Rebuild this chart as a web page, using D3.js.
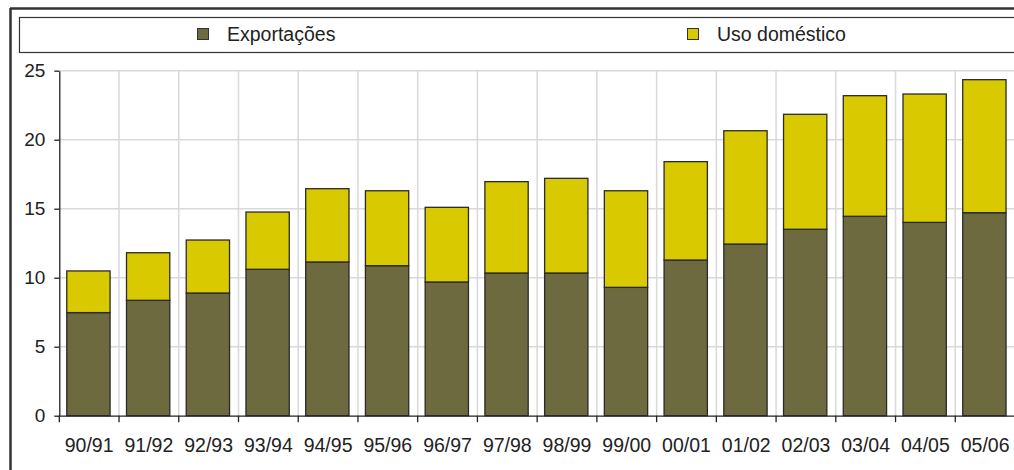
<!DOCTYPE html>
<html><head><meta charset="utf-8">
<script src="https://cdn.jsdelivr.net/npm/d3@7"></script>
<style>body{margin:0;background:#fff;}svg{display:block;font-family:"Liberation Sans",Arial,sans-serif;}</style>
</head><body>
<svg id="c" width="1014" height="470"></svg>
<script>
const categories = ["90/91","91/92","92/93","93/94","94/95","95/96","96/97","97/98","98/99","99/00","00/01","01/02","02/03","03/04","04/05","05/06"];
const exportacoes = [7.47,8.36,8.89,10.61,11.14,10.87,9.69,10.34,10.34,9.3,11.28,12.44,13.51,14.45,14.01,14.71];
const usoDomestico = [3.02,3.45,3.84,4.15,5.31,5.43,5.41,6.62,6.86,7.0,7.13,8.21,8.33,8.74,9.30,9.64];
const seriesNames = ["Exportações","Uso doméstico"];
const yTicks = [0,5,10,15,20,25];
const colors = ["#6d6a40","#d8c900"];

const svg = d3.select("#c");
const x = d3.scaleBand().domain(categories).range([59.3,1015]).padding(0);
const y = d3.scaleLinear().domain([0,25]).range([415.7,70.7]);
const bw = x.bandwidth();

// outer frame
svg.append("line").attr("x1",10).attr("x2",1014).attr("y1",8.5).attr("y2",8.5).attr("stroke","#333").attr("stroke-width",2.5);
svg.append("line").attr("x1",10.5).attr("x2",10.5).attr("y1",8).attr("y2",470).attr("stroke","#333").attr("stroke-width",2.5);

// legend box
svg.append("rect").attr("x",19.5).attr("y",17.5).attr("width",1010).attr("height",35).attr("fill","#fff").attr("stroke","#333").attr("stroke-width",1.2);
const legX = [197,687];
seriesNames.forEach((n,i)=>{
  svg.append("rect").attr("x",legX[i]+0.5).attr("y",28.5).attr("width",11).attr("height",11).attr("fill",colors[i]).attr("stroke","#333").attr("stroke-width",1);
  svg.append("text").attr("x",legX[i]+30).attr("y",40.5).attr("font-size",19.5).attr("fill","#222").text(n);
});

// grid
const g = svg.append("g");
g.selectAll("line.h").data(yTicks.filter(d=>d>0)).enter().append("line")
  .attr("x1",59.3).attr("x2",1015).attr("y1",d=>y(d)).attr("y2",d=>y(d)).attr("stroke","#d9d9d9").attr("stroke-width",1.5);
g.selectAll("line.v").data(categories.slice(1)).enter().append("line")
  .attr("x1",d=>x(d)).attr("x2",d=>x(d)).attr("y1",y(25)).attr("y2",y(0)).attr("stroke","#d9d9d9").attr("stroke-width",1.5);

// bars
const stackData = categories.map((c,i)=>({cat:c, e:exportacoes[i], u:usoDomestico[i]}));
const stack = d3.stack().keys(["e","u"])(stackData);
stack.forEach((s,si)=>{
  svg.append("g").selectAll("rect").data(s).enter().append("rect")
    .attr("x",d=>x(d.data.cat)+bw*0.125)
    .attr("width",bw*0.725)
    .attr("y",d=>y(d[1]))
    .attr("height",d=>y(d[0])-y(d[1]))
    .attr("fill",colors[si]).attr("stroke","#2a2a2a").attr("stroke-width",1.3);
});

// axes
const ya = svg.append("g").attr("transform","translate(59.3,0)")
  .call(d3.axisLeft(y).tickValues(yTicks).tickSize(5).tickPadding(9).tickSizeOuter(0));
ya.select(".domain").attr("stroke","#222").attr("stroke-width",1.3);
ya.selectAll(".tick line").attr("stroke","#222").attr("stroke-width",1.3);
ya.selectAll("text").attr("font-size",19).attr("fill","#222").attr("font-family","Liberation Sans, Arial, sans-serif");

const xa = svg.append("g").attr("transform",`translate(0,${y(0)})`)
  .call(d3.axisBottom(x).tickSize(0).tickPadding(22).tickSizeOuter(0));
xa.select(".domain").attr("stroke","#222").attr("stroke-width",1.3);
xa.selectAll("text").attr("font-size",19.5).attr("fill","#222").attr("font-family","Liberation Sans, Arial, sans-serif");
// boundary ticks
svg.append("g").selectAll("line").data(categories).enter().append("line")
  .attr("x1",d=>x(d)).attr("x2",d=>x(d)).attr("y1",y(0)).attr("y2",y(0)+6.5).attr("stroke","#222").attr("stroke-width",1.3);
</script>
</body></html>
